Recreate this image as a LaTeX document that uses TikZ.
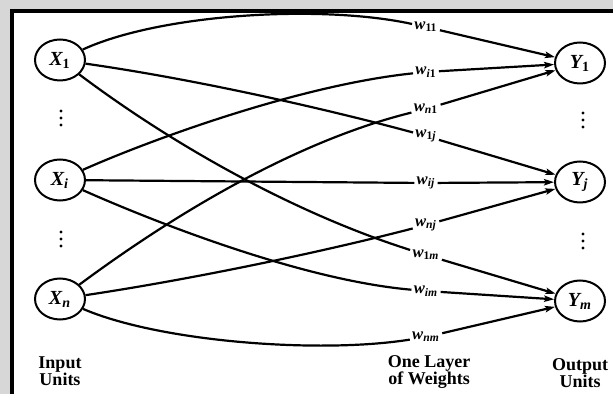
\documentclass[tikz,border=0pt]{standalone}
\usepackage{fontspec}
\setmainfont{Liberation Serif}
\usetikzlibrary{shapes.geometric,arrows.meta}
\definecolor{bgGrey}{RGB}{215,215,215}
\tikzset{
  unit/.style={draw,ellipse,line width=1pt,minimum width=25pt,minimum height=20.5pt,inner sep=0pt,font=\bfseries\itshape},
  wlabel/.style={inner sep=1pt,font=\bfseries\itshape\fontsize{8.3}{9}\selectfont},
  link/.style={line width=1.1pt,-{Stealth[length=5pt,width=3.2pt,inset=1pt]}},
  caption/.style={align=center,font=\bfseries\fontsize{9}{8.5}\selectfont},
}
\begin{document}
\begin{tikzpicture}[x=0.5pt,y=-0.5pt,font=\fontsize{9}{10}\selectfont]
  \clip (0,0) rectangle (613,394);
  \fill[bgGrey] (0,0) rectangle (613,394);
  \draw[line width=2pt,fill=white] (11.5,11) rectangle (630,410);
  % units
  \foreach \n/\s/\y in {1/{\upshape 1}/60, i/i/180, n/n/299}
    \node[unit] (X\n) at (60,\y) {X\textsubscript{\s}};
  \foreach \n/\s/\y in {1/{\upshape 1}/63, j/j/182, m/m/301}
    \node[unit] (Y\n) at (580,\y) {Y\textsubscript{\s}};
  \foreach \x/\y in {61/118, 61/239, 583/120, 583/241}
    \foreach \d in {-7,0,7} \fill (\x,\y+\d) circle[radius=1.6];
  % weights
  \foreach \n/\s/\y in {w11/{\upshape 11}/27, wi1/{i\upshape 1}/72, wn1/{n\upshape 1}/109,
      w1j/{\upshape 1\itshape j}/136, wij/ij/183, wnj/nj/225,
      w1m/{\upshape 1\itshape m}/255, wim/im/291, wnm/nm/337}
    \node[wlabel] (\n) at (426,\y) {w\textsubscript{\s}};
  \draw[link] (X1) .. controls (160,14) and (320,4) .. (w11) -- (Y1);
  \draw[link] (X1) .. controls (200,80) and (330,110) .. (w1j) -- (Yj);
  \draw[link] (X1) .. controls (180,150) and (300,215) .. (w1m) -- (Ym);
  \draw[link] (Xi) .. controls (150,140) and (300,85) .. (wi1) -- (Y1);
  \draw[link] (Xi) -- (wij) -- (Yj);
  \draw[link] (Xi) .. controls (150,220) and (300,280) .. (wim) -- (Ym);
  \draw[link] (Xn) .. controls (180,210) and (300,140) .. (wn1) -- (Y1);
  \draw[link] (Xn) .. controls (200,278) and (330,250) .. (wnj) -- (Yj);
  \draw[link] (Xn) .. controls (160,342) and (320,354) .. (wnm) -- (Ym);
  % captions
  \node[caption] (inCap) at (60,371) {Input\\Units};
  \node[caption] (layerCap) at (429,372) {One Layer\\of Weights};
  \node[caption] (outCap) at (580,373) {Output\\Units};
\end{tikzpicture}
\end{document}
